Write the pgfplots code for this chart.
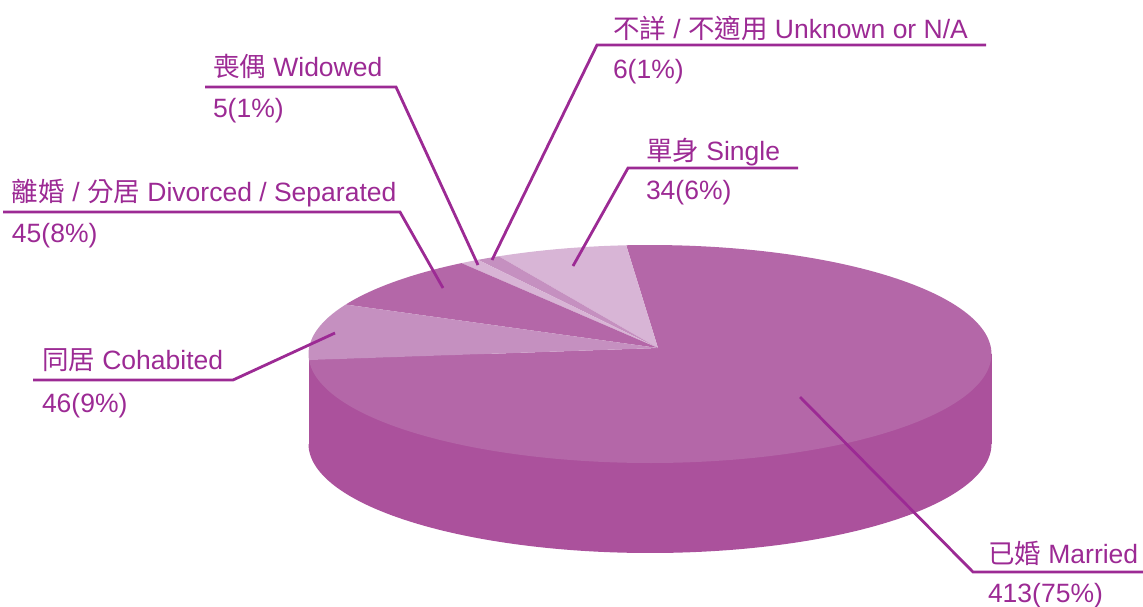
\documentclass[border=0pt]{standalone}
\usepackage{pgfplots}
\pgfplotsset{compat=1.18}
\usepackage{fontspec}
\setmainfont{Liberation Sans}
\newfontfamily\cjk{Noto Sans CJK TC}
\definecolor{cMar}{HTML}{B467A8}
\definecolor{cSide}{HTML}{AB519C}
\definecolor{cCoh}{HTML}{C590C0}
\definecolor{cDiv}{HTML}{B467A8}
\definecolor{cWid}{HTML}{D8B4D5}
\definecolor{cUnk}{HTML}{C590C0}
\definecolor{cSin}{HTML}{D8B5D6}
\definecolor{cTxt}{HTML}{9C2A94}
% data
\def\vSin{34}
\def\vUnk{6}
\def\vWid{5}
\def\vDiv{45}
\def\vCoh{46}
\def\vMar{413}
\pgfmathsetmacro\tot{\vSin+\vUnk+\vWid+\vDiv+\vCoh+\vMar}
\pgfmathsetmacro\unit{360/\tot}
\pgfmathsetmacro\aA{94}
\pgfmathsetmacro\aB{\aA+\unit*\vSin}
\pgfmathsetmacro\aC{\aB+\unit*\vUnk}
\pgfmathsetmacro\aD{\aC+\unit*\vWid}
\pgfmathsetmacro\aE{\aD+\unit*\vDiv}
\pgfmathsetmacro\aF{\aE+\unit*\vCoh}
\pgfmathsetmacro\aG{\aF+\unit*\vMar}
\def\cx{650}\def\cy{354}\def\rx{341.5}\def\ry{109}\def\dep{90}
\def\px{658}\def\py{348}
\tikzset{lab/.style={text=cTxt, font=\fontsize{26.5}{30}\selectfont, inner sep=0pt, outer sep=0pt, anchor=base west}}
\begin{document}
\begin{tikzpicture}
\begin{axis}[
  scale only axis, width=1143pt, height=606pt,
  xmin=0, xmax=1143, ymin=0, ymax=606, y dir=reverse,
  hide axis, clip=false,
]
% side wall
\addplot[fill=cSide, draw=none, domain=180:360, samples=120] ({\cx+\rx*cos(x)},{\cy+\dep-\ry*sin(x)}) -- cycle;
\addplot[fill=cSide, draw=none] coordinates {(\cx-\rx,\cy) (\cx+\rx,\cy) (\cx+\rx,\cy+\dep) (\cx-\rx,\cy+\dep)} -- cycle;
% top faces
\addplot[fill=cMar, draw=none, domain=\aF:\aG, samples=200] ({\cx+\rx*cos(x)},{\cy-\ry*sin(x)}) -- (\px,\py) -- cycle;
\addplot[fill=cSin, draw=none, domain=\aA:\aB, samples=30] ({\cx+\rx*cos(x)},{\cy-\ry*sin(x)}) -- (\px,\py) -- cycle;
\addplot[fill=cUnk, draw=none, domain=\aB:\aC, samples=10] ({\cx+\rx*cos(x)},{\cy-\ry*sin(x)}) -- (\px,\py) -- cycle;
\addplot[fill=cWid, draw=none, domain=\aC:\aD, samples=10] ({\cx+\rx*cos(x)},{\cy-\ry*sin(x)}) -- (\px,\py) -- cycle;
\addplot[fill=cDiv, draw=none, domain=\aD:\aE, samples=40] ({\cx+\rx*cos(x)},{\cy-\ry*sin(x)}) -- (\px,\py) -- cycle;
\addplot[fill=cCoh, draw=none, domain=\aE:\aF, samples=40] ({\cx+\rx*cos(x)},{\cy-\ry*sin(x)}) -- (\px,\py) -- cycle;
% leader lines
\addplot[draw=cTxt, line width=2.8pt] coordinates {(205,87) (396,87) (478,265)};
\addplot[draw=cTxt, line width=2.8pt] coordinates {(3,212) (400,212) (443,288)};
\addplot[draw=cTxt, line width=2.8pt] coordinates {(986,45) (597,45) (492,260)};
\addplot[draw=cTxt, line width=2.8pt] coordinates {(798,168) (628,168) (573,266)};
\addplot[draw=cTxt, line width=2.8pt] coordinates {(33,380) (233,380) (335,333)};
\addplot[draw=cTxt, line width=2.8pt] coordinates {(800,397) (973,572) (1143,572)};
% labels
\node[lab] at (axis cs:213,76) {{\cjk 喪偶} Widowed};
\node[lab] at (axis cs:213,117) {5(1\%)};
\node[lab] at (axis cs:12,201) {{\cjk 離婚} / {\cjk 分居} Divorced / Separated};
\node[lab] at (axis cs:12,242) {45(8\%)};
\node[lab] at (axis cs:613,38) {{\cjk 不詳} / {\cjk 不適用} Unknown or N/A};
\node[lab] at (axis cs:613,78) {6(1\%)};
\node[lab] at (axis cs:646,160) {{\cjk 單身} Single};
\node[lab] at (axis cs:646,199) {34(6\%)};
\node[lab] at (axis cs:42,369) {{\cjk 同居} Cohabited};
\node[lab] at (axis cs:42,412) {46(9\%)};
\node[lab] at (axis cs:988,563) {{\cjk 已婚} Married};
\node[lab] at (axis cs:988,602) {413(75\%)};
\end{axis}
\pgfresetboundingbox
\path (0,0) rectangle (1143pt,606pt);
\end{tikzpicture}
\end{document}
